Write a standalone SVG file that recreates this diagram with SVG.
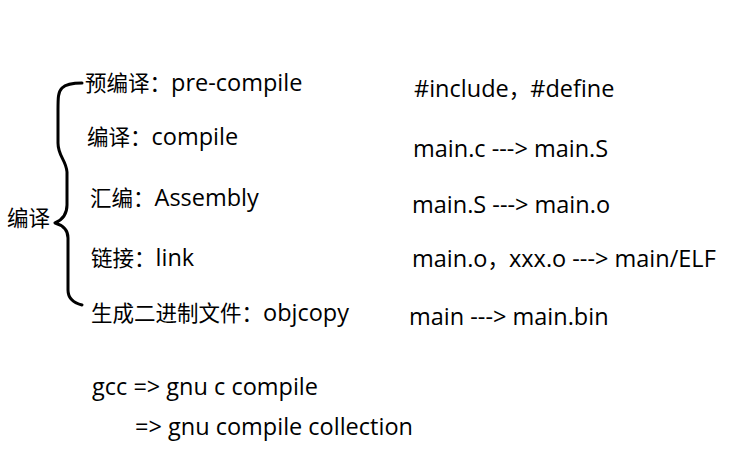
<svg xmlns="http://www.w3.org/2000/svg" width="752" height="472" viewBox="0 0 752 472">
<style>
text{font-family:"Open Sans","Noto Sans CJK SC",sans-serif;font-size:23.5px;fill:#000}
.cjk{font-family:"Noto Sans CJK SC",sans-serif;font-size:21.5px}
.brace{fill:none;stroke:#000;stroke-width:3;stroke-linecap:round;stroke-linejoin:round}
</style>
<rect width="752" height="472" fill="#fff"/>
<g id="connectors">
<path class="brace" d="M82,83 C74,83 66,84 62,88 C58,92 58,98 58,110 L58,143 C58,156 66,160 67,172 L67,205 C67,214 62,220 55,223 C62,225 68,229 68,238 L68,290 C68,298 74,303 82,305"/>
</g>
<g id="root"><text x="7" y="226" class="cjk">编译</text></g>
<g id="n1"><text x="85" y="91"><tspan class="cjk">预编译：</tspan>pre-compile</text></g>
<g id="n2"><text x="87" y="145"><tspan class="cjk">编译：</tspan>compile</text></g>
<g id="n3"><text x="90" y="206"><tspan class="cjk">汇编：</tspan>Assembly</text></g>
<g id="n4"><text x="91" y="266"><tspan class="cjk">链接：</tspan>link</text></g>
<g id="n5"><text x="91" y="321"><tspan class="cjk">生成二进制文件：</tspan>objcopy</text></g>
<g id="d1"><text x="414" y="97">#include<tspan class="cjk">，</tspan>#define</text></g>
<g id="d2"><text x="413" y="157">main.c ---&gt; main.S</text></g>
<g id="d3"><text x="412" y="213">main.S ---&gt; main.o</text></g>
<g id="d4"><text x="412" y="267">main.o<tspan class="cjk">，</tspan>xxx.o ---&gt; main/ELF</text></g>
<g id="d5"><text x="409" y="325">main ---&gt; main.bin</text></g>
<g id="gcc1"><text x="92" y="395">gcc =&gt; gnu c compile</text></g>
<g id="gcc2"><text x="135" y="435">=&gt; gnu compile collection</text></g>
</svg>
